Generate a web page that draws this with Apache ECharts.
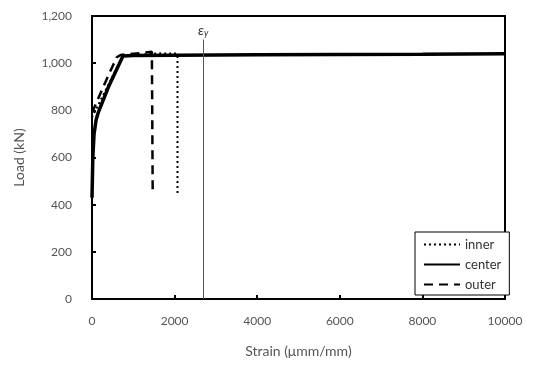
<!DOCTYPE html>
<html>
<head>
<meta charset="utf-8">
<script src="https://cdn.jsdelivr.net/npm/echarts@6/dist/echarts.min.js"></script>
<style>
  html, body { margin: 0; padding: 0; background: #fff; }
  #chart { width: 539px; height: 370px; }
</style>
</head>
<body>
<div id="chart"></div>
<script>
// Load–strain readings (strain in µmm/mm, load in kN).
const innerStrain = [0, 200, 400, 600, 750, 900, 1200, 1500, 1700, 1850, 1950, 2050, 2070, 2070];
const innerLoad   = [770, 840, 910, 980, 1030, 1034, 1036, 1040, 1042, 1040, 1043, 1040, 1030, 440];
const centerStrain = [0, 20, 50, 100, 150, 400, 750, 1000, 2000, 4000, 6000, 8000, 10000];
const centerLoad   = [430, 600, 700, 760, 790, 900, 1030, 1032, 1034, 1036, 1037, 1038, 1040];
const outerStrain = [0, 200, 400, 600, 700, 1000, 1300, 1450, 1470, 1470];
const outerLoad   = [790, 870, 950, 1025, 1035, 1040, 1045, 1048, 1040, 440];
const yieldStrain = 2690;
const yTicks = [0, 200, 400, 600, 800, 1000, 1200];

const pairs = (xs, ys) => xs.map((x, i) => [x, ys[i]]);
const font = "Lato, 'Open Sans', sans-serif";
const labelColor = "#555";

const chart = echarts.init(document.getElementById("chart"), null, { renderer: "canvas" });

const axisCommon = {
  axisLine: { show: true, lineStyle: { color: "#000", width: 2 } },
  axisTick: { show: true, inside: true, length: 4, lineStyle: { color: "#000", width: 2 } },
  splitLine: { show: false },
  axisLabel: { color: labelColor, fontFamily: font, fontSize: 12 },
  nameTextStyle: { color: labelColor, fontFamily: font, fontSize: 14 },
};

const lineSeries = (name, data, width, type, z) => ({
  name, type: "line", data, symbol: "none", showSymbol: false,
  color: "#000", z, animation: false,
  lineStyle: { color: "#000", width, type },
});

chart.setOption({
  animation: false,
  grid: { left: 92, right: 34, top: 16, bottom: 71, show: true, borderColor: "#000", borderWidth: 2 },
  legend: {
    orient: "vertical", left: 415, top: 232, width: 90,
    backgroundColor: "#fff", borderColor: "#000", borderWidth: 1,
    padding: [6, 8, 4, 8], itemGap: 7, itemWidth: 36, itemHeight: 14,
    itemStyle: { opacity: 0 },
    textStyle: { color: "#333", fontFamily: font, fontSize: 13 },
    data: ["inner", "center", "outer"],
  },
  xAxis: {
    ...axisCommon,
    type: "value", min: 0, max: 10000, interval: 2000,
    name: "Strain (\u03bcmm/mm)", nameLocation: "middle", nameGap: 45,
    axisLabel: { ...axisCommon.axisLabel, margin: 16, formatter: (v) => String(v) },
  },
  yAxis: {
    ...axisCommon,
    type: "value", min: 0, max: 1200, interval: 200,
    name: "Load (kN)", nameLocation: "middle", nameGap: 66,
    axisLabel: { ...axisCommon.axisLabel, margin: 20,
      formatter: (v) => yTicks.includes(v) ? v.toLocaleString("en-US") : "" },
  },
  series: [
    {
      ...lineSeries("inner", pairs(innerStrain, innerLoad), 2, [2, 3], 3),
      markLine: {
        silent: true, symbol: "none", animation: false,
        lineStyle: { color: "#555", width: 1, type: "solid" },
        label: {
          position: "end", distance: 2, formatter: "{e|\u03b5}{s|y}",
          rich: {
            e: { fontFamily: font, fontStyle: "italic", fontSize: 14, color: "#333" },
            s: { fontFamily: font, fontStyle: "italic", fontSize: 9, color: "#333", verticalAlign: "bottom", padding: [6, 0, 0, 0] },
          },
        },
        data: [[{ coord: [yieldStrain, 0] }, { coord: [yieldStrain, 1100] }]],
      },
    },
    lineSeries("center", pairs(centerStrain, centerLoad), 3.5, "solid", 4),
    lineSeries("outer", pairs(outerStrain, outerLoad), 2.5, [9, 6], 3),
  ],
});
</script>
</body>
</html>
